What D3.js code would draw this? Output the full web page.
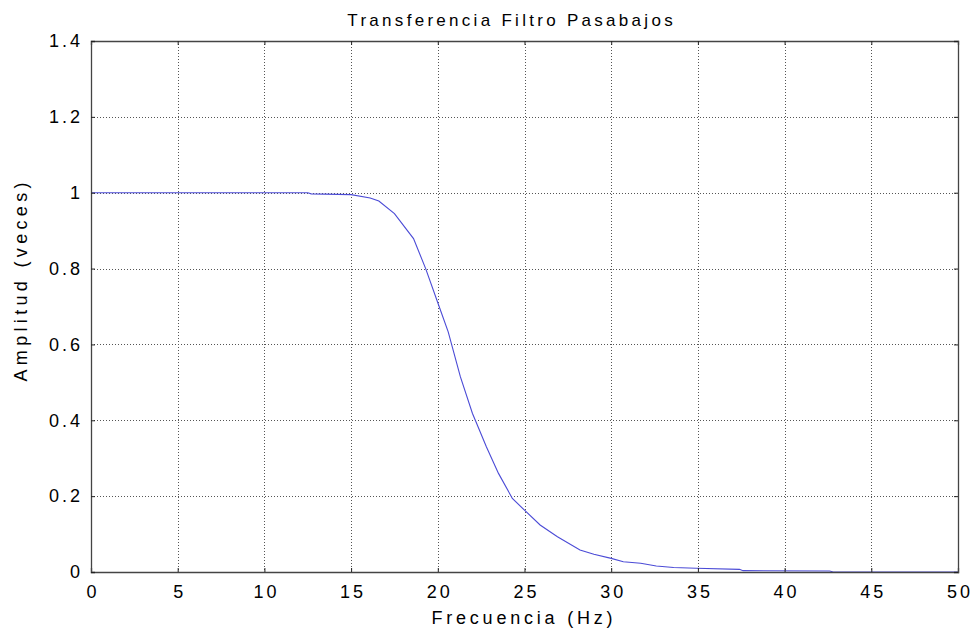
<!DOCTYPE html>
<html><head><meta charset="utf-8">
<script src="https://cdn.jsdelivr.net/npm/d3@7"></script>
<style>body{margin:0;background:#fff}svg{display:block}text{font-family:"Liberation Sans",Arial,sans-serif;fill:#000}</style>
</head><body><svg id="c" width="971" height="630"></svg>
<script>
const freq = [0, 12.5, 12.7, 15.0, 16.1, 16.6, 17.5, 18.6, 19.3, 20.0, 20.6, 21.3, 22.0, 22.2, 22.8, 23.5, 24.3, 25.0, 25.9, 26.9, 28.2, 29.0, 30.0, 30.7, 31.7, 32.6, 33.6, 34.9, 37.4, 37.6, 42.6, 42.8, 50];
const amp = [1, 1, 0.997, 0.995, 0.986, 0.978, 0.945, 0.879, 0.8, 0.71, 0.633, 0.515, 0.418, 0.396, 0.33, 0.26, 0.194, 0.163, 0.124, 0.093, 0.058, 0.047, 0.036, 0.027, 0.023, 0.016, 0.012, 0.0097, 0.007, 0.0035, 0.0026, 0, 0];
const xTicks = [0,5,10,15,20,25,30,35,40,45,50];
const yTicks = [0,0.2,0.4,0.6,0.8,1,1.2,1.4];
const title = "Transferencia Filtro Pasabajos";
const xLabel = "Frecuencia (Hz)";
const yLabel = "Amplitud (veces)";

const L=91,R=958,T=41,B=572;
const svg=d3.select("#c");
const x=d3.scaleLinear().domain([0,50]).range([L,R]);
const y=d3.scaleLinear().domain([0,1.4]).range([B,T]);

// grid
const g=svg.append("g");
g.selectAll(".gx").data(xTicks.slice(1,-1)).join("line")
 .attr("x1",d=>Math.round(x(d))+0.5).attr("x2",d=>Math.round(x(d))+0.5).attr("y1",T).attr("y2",B)
 .attr("stroke","#555").attr("stroke-width",1).attr("stroke-dasharray","1,2");
g.selectAll(".gy").data(yTicks.slice(1,-1)).join("line")
 .attr("y1",d=>Math.round(y(d))+0.5).attr("y2",d=>Math.round(y(d))+0.5).attr("x1",L).attr("x2",R)
 .attr("stroke","#555").attr("stroke-width",1).attr("stroke-dasharray","1,2");

// line
svg.append("path").datum(freq.map((f,i)=>[f,amp[i]]))
 .attr("d",d3.line().x(d=>x(d[0])).y(d=>y(d[1])))
 .attr("fill","none").attr("stroke","#4b4bd6").attr("stroke-width",1.1);

// axes box
const tl=4, ls=3;
const axB=svg.append("g").attr("transform",`translate(0,${B})`).call(d3.axisBottom(x).tickValues(xTicks).tickSize(-tl).tickPadding(13).tickFormat(d3.format("d")));
const axT=svg.append("g").attr("transform",`translate(0,${T})`).call(d3.axisTop(x).tickValues(xTicks).tickSize(-tl).tickFormat(""));
const axL=svg.append("g").attr("transform",`translate(${L},0)`).call(d3.axisLeft(y).tickValues(yTicks).tickSize(-tl).tickPadding(11).tickFormat(d=>d===0?"0":String(+d.toFixed(1))));
const axR=svg.append("g").attr("transform",`translate(${R},0)`).call(d3.axisRight(y).tickValues(yTicks).tickSize(-tl).tickFormat(""));
[axB,axT,axL,axR].forEach(a=>{a.select(".domain").attr("stroke","#444").attr("stroke-width",1.3);a.selectAll(".tick line").attr("stroke","#222");});

function spaceChars(textSel, sp){
  textSel.each(function(){
    const t=d3.select(this); const s=t.text(); t.text("");
    [...s].forEach((ch,i)=>t.append("tspan").attr("dx",i?sp:0).text(ch));
  });
}
[axB,axL].forEach(a=>{
  const ts=a.selectAll("text").attr("font-size",18).attr("font-family","Liberation Sans, Arial, sans-serif").attr("fill","#000");
  spaceChars(ts,ls);
});

function fitText(sel, target){
  const s=sel.text(); const n=s.length;
  const w=sel.node().getComputedTextLength();
  const sp=(target-w)/(n-1);
  sel.text("");
  [...s].forEach((ch,i)=>sel.append("tspan").attr("dx",i?sp:0).text(ch));
}
const t1=svg.append("text").attr("x",510).attr("y",26).attr("text-anchor","middle").attr("font-size",17).text(title);
fitText(t1,325);
const t2=svg.append("text").attr("x",522).attr("y",624).attr("text-anchor","middle").attr("font-size",18).text(xLabel);
fitText(t2,181);
const t3=svg.append("text").attr("transform",`translate(27,282) rotate(-90)`).attr("text-anchor","middle").attr("font-size",18).text(yLabel);
fitText(t3,199);
</script></body></html>
